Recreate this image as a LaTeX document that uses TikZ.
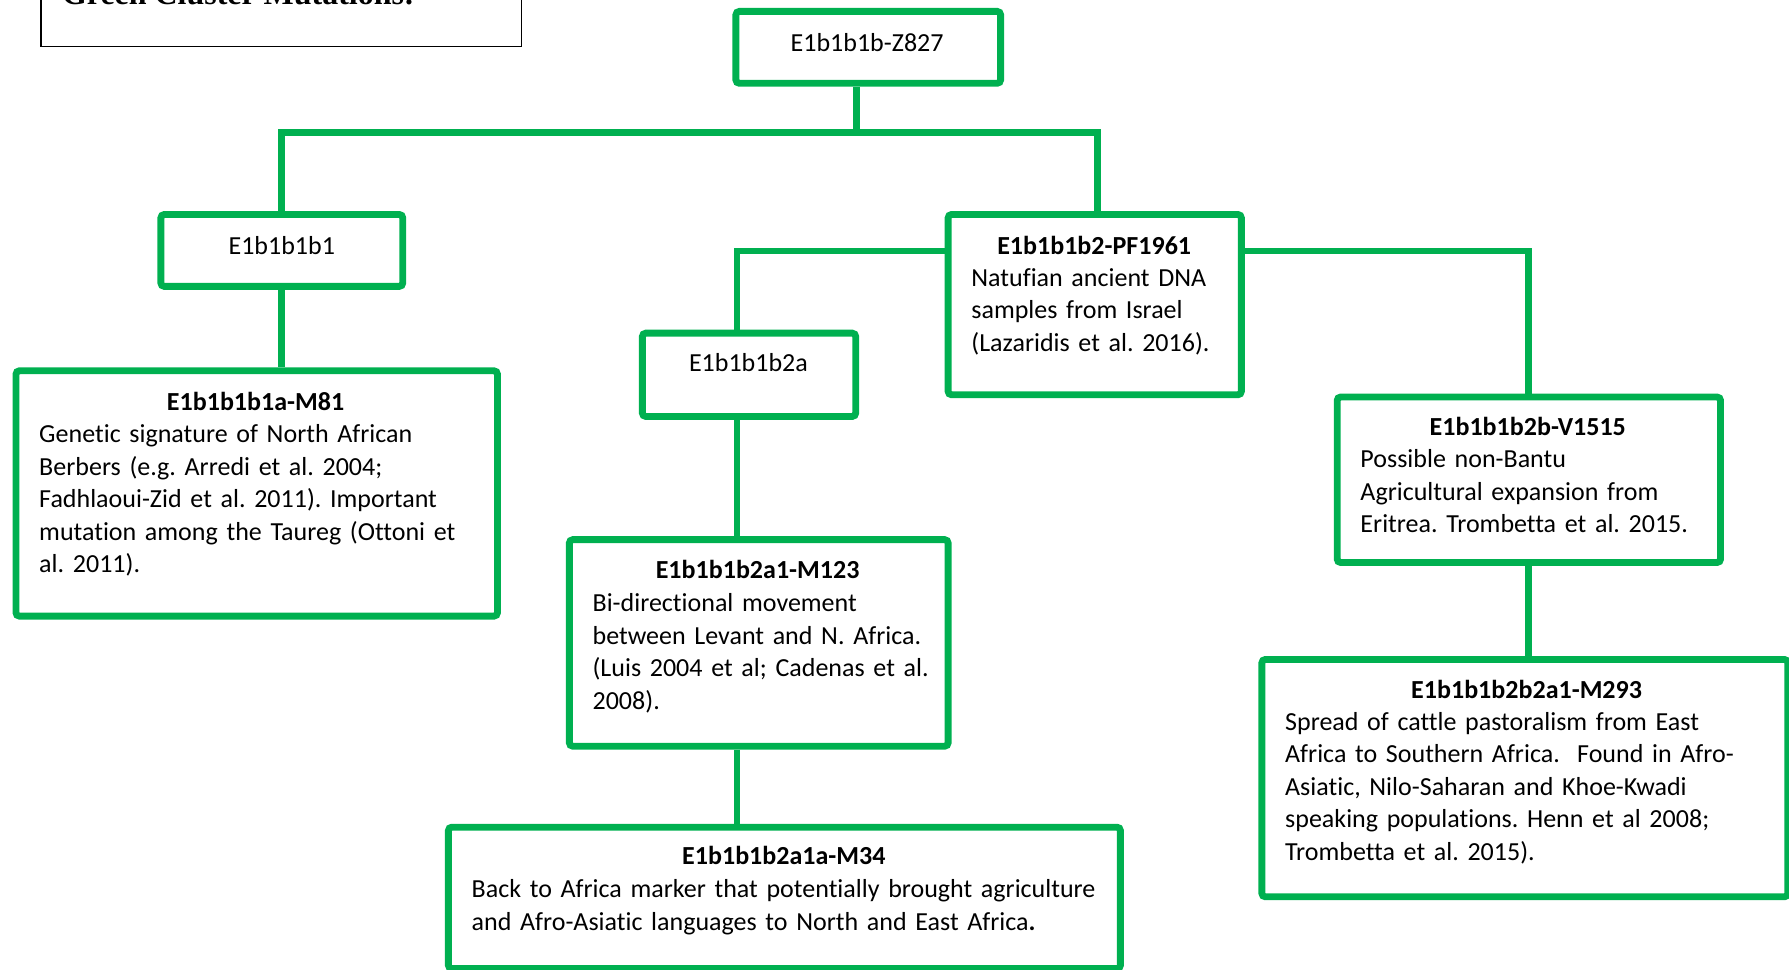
\documentclass[tikz,border=0pt]{standalone}
\usepackage{fontspec}
\setmainfont{Carlito}[Ligatures={NoCommon}]
\newfontfamily\timesf{Liberation Serif}
\definecolor{gr}{HTML}{00B050}
\newcommand\gfs{\fontsize{11.4pt}{14.25pt}\selectfont\frenchspacing}
\tikzset{
  gbox/.style={draw=gr, line width=3pt, rounded corners=1.5pt, inner sep=0pt},
  conn/.style={draw=gr, line width=3pt},
  ttl/.style={font=\gfs\bfseries, anchor=base, inner sep=0pt},
  lbl/.style={font=\gfs, anchor=base, inner sep=0pt},
  body/.style={font=\gfs, anchor=base west, inner sep=0pt, align=left, text width=300pt},
}
\begin{document}
\begin{tikzpicture}[x=0.5pt,y=-0.5pt]
\useasboundingbox (0,0) rectangle (1568,850);
\clip (0,0) rectangle (1568,850);

% title box
\node[draw, line width=0.6pt, minimum width=210.5pt, minimum height=50.5pt, inner sep=0pt] (tbox) at (246.5,-9.5) {};
\node[anchor=base west, inner sep=0pt, font=\timesf\fontsize{14pt}{16pt}\selectfont\bfseries] (ttext) at (54,4) {Green Cluster Mutations:};

% junction coordinates
\coordinate (hM) at (751,116);
\coordinate (hR) at (962,116);
\coordinate (jL) at (646,220);
\coordinate (jR) at (1340,220);

% boxes
\node[gbox, minimum width=116pt, minimum height=31.5pt] (root) at (761,41.5) {};
\node[gbox, minimum width=106pt, minimum height=31.5pt] (b1) at (247,219.5) {};
\node[gbox, minimum width=128.5pt, minimum height=79pt] (pf) at (959.5,267) {};
\node[gbox, minimum width=93.5pt, minimum height=36.5pt] (b2a) at (656.5,328.5) {};
\node[gbox, minimum width=211pt, minimum height=107.5pt] (m81) at (225,432.5) {};
\node[gbox, minimum width=166pt, minimum height=90.5pt] (m123) at (665,563.5) {};
\node[gbox, minimum width=294.5pt, minimum height=62pt] (m34) at (687.5,787) {};
\node[gbox, minimum width=168pt, minimum height=72.5pt] (v15) at (1340,420.5) {};
\node[gbox, minimum width=230.5pt, minimum height=104pt] (m293) at (1336.5,682) {};

% connectors
\draw[conn] (hM |- root.south) -- (hM);
\draw[conn] (b1.north) -- (b1.north |- hM) -- (hR) -- (hR |- pf.north);
\draw[conn] (b1.south) -- (b1.south |- m81.north);
\draw[conn] (pf.west |- jL) -- (jL) -- (jL |- b2a.north);
\draw[conn] (pf.east |- jR) -- (jR) -- (jR |- v15.north);
\draw[conn] (jL |- b2a.south) -- (jL |- m123.north);
\draw[conn] (jL |- m123.south) -- (jL |- m34.north);
\draw[conn] (jR |- v15.south) -- (jR |- m293.north);

% texts
\node[lbl] (troot) at (760,45) {E1b1b1b-Z827};
\node[lbl] (tb1) at (247,223) {E1b1b1b1};
\node[lbl] (tb2a) at (656,326) {E1b1b1b2a};

\node[ttl] (tpf) at (959,223) {E1b1b1b2-PF1961};
\node[body] (bpf) at (851,251) {Natufian ancient DNA\\samples from Israel\\(Lazaridis et al. 2016).};

\node[ttl] (tm81) at (224,360) {E1b1b1b1a-M81};
\node[body] (bm81) at (34,388) {Genetic signature of North African\\Berbers (e.g. Arredi et al. 2004;\\Fadhlaoui-Zid et al. 2011). Important\\mutation among the Taureg (Ottoni et\\al. 2011).};

\node[ttl] (tm123) at (664,507) {E1b1b1b2a1-M123};
\node[body] (bm123) at (519,536) {Bi-directional movement\\between Levant and N. Africa.\\(Luis 2004 et al; Cadenas et al.\\2008).};

\node[ttl] (tm34) at (687,758) {E1b1b1b2a1a-M34};
\node[body] (bm34) at (413,787) {Back to Africa marker that potentially brought agriculture\\and Afro-Asiatic languages to North and East Africa\textbf{.}};

\node[ttl] (tv15) at (1339,382) {E1b1b1b2b-V1515};
\node[body] (bv15) at (1192,410) {Possible non-Bantu\\Agricultural expansion from\\Eritrea. Trombetta et al. 2015.};

\node[ttl] (tm293) at (1338,612) {E1b1b1b2b2a1-M293};
\node[body] (bm293) at (1126,640) {Spread of cattle pastoralism from East\\Africa to Southern Africa.\ \ Found in Afro-\\Asiatic, Nilo-Saharan and Khoe-Kwadi\\speaking populations. Henn et al 2008;\\Trombetta et al. 2015).};
\end{tikzpicture}
\end{document}
